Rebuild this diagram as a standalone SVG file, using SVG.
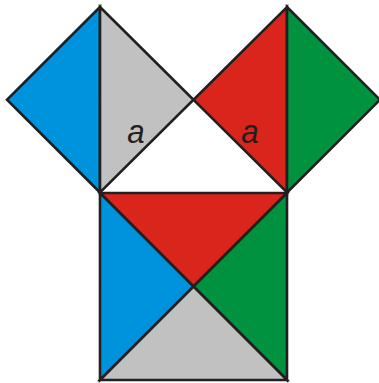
<svg xmlns="http://www.w3.org/2000/svg" width="379" height="383" viewBox="0 0 379 383">
<style>
.s{stroke:#231f20;stroke-width:2.6;stroke-linejoin:miter}
.b{fill:#0093dd}.g{fill:#c1c1c1}.r{fill:#da251d}.gr{fill:#00923f}
.t{font-family:"Liberation Sans",Arial,sans-serif;font-style:italic;font-size:34px;fill:#231f20}
</style>
<rect width="379" height="383" fill="#fff"/>
<g id="left-square">
<polygon class="s b" points="100,7 100,192.5 7,99.75"/>
<polygon class="s g" points="100,7 193.5,99.75 100,192.5"/>
<text class="t" x="136" y="143" text-anchor="middle" transform="translate(136 143) scale(0.92 1) translate(-136 -143)">a</text>
</g>
<g id="right-square">
<polygon class="s r" points="287,7 287,192.5 193.5,99.75"/>
<polygon class="s gr" points="287,7 380,99.75 287,192.5"/>
<text class="t" x="250" y="143" text-anchor="middle" transform="translate(250 143) scale(0.92 1) translate(-250 -143)">a</text>
</g>
<g id="bottom-square">
<polygon class="s r" points="100,193 287,193 193.5,286.5"/>
<polygon class="s b" points="100,193 193.5,286.5 100,380"/>
<polygon class="s gr" points="287,193 287,380 193.5,286.5"/>
<polygon class="s g" points="100,380 193.5,286.5 287,380"/>
</g>
<g id="connectors"></g>
</svg>
